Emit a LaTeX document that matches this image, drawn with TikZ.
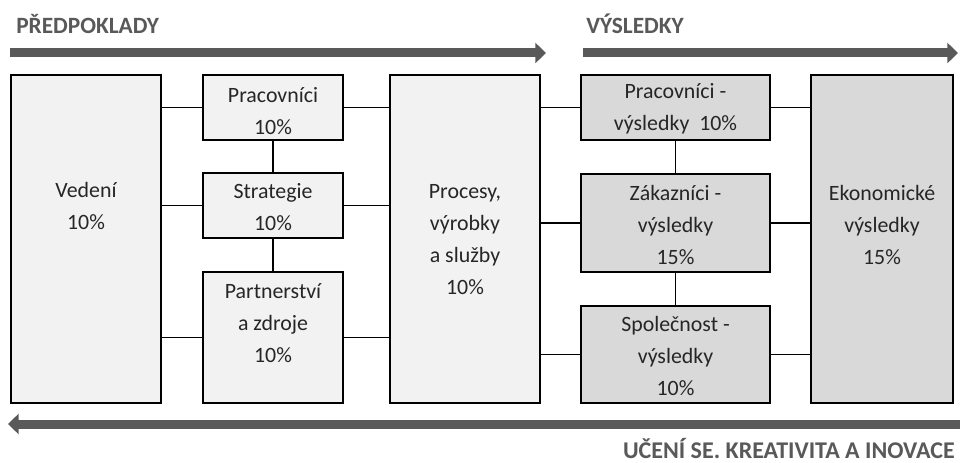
\documentclass[tikz,border=0pt]{standalone}
\usepackage{fontspec}
\setmainfont{Carlito}
\usetikzlibrary{arrows.meta,shadows}
\definecolor{hdr}{HTML}{595959}
\definecolor{lightbox}{HTML}{F2F2F2}
\definecolor{darkbox}{HTML}{D9D9D9}
\definecolor{txt}{HTML}{262626}
\begin{document}
\begin{tikzpicture}[x=0.75pt,y=-0.75pt,
 boxbase/.style={draw=black, line width=1.9pt, inner sep=0pt, drop shadow={shadow xshift=1pt, shadow yshift=-1pt, fill=black!45, opacity=1}},
 lbox/.style={boxbase, fill=lightbox},
 rbox/.style={boxbase, fill=darkbox},
 txtnode/.style={text=txt, font=\fontsize{16.4}{24}\selectfont, align=center, inner sep=0pt},
 conn/.style={line width=1.1pt, black},
 bigarrow/.style={line width=6.75pt, hdr, -{Triangle[length=8pt,width=15pt]}},
 hdrtext/.style={text=hdr, font=\fontsize{17.5}{20}\selectfont\bfseries, inner sep=0pt},
 foottext/.style={text=hdr, font=\fontsize{18}{20}\selectfont\bfseries, inner sep=0pt}
]
\useasboundingbox[fill=white] (0,0) rectangle (960,463);

% headers
\node[hdrtext, anchor=base west] (h1) at (16,34) {PŘEDPOKLADY};
\node[hdrtext, anchor=base west] (h2) at (586,34) {VÝSLEDKY};
\node[foottext, anchor=base east] (h3) at (955,458) {UČENÍ SE. KREATIVITA A INOVACE};

% big arrows
\coordinate (a1s) at (10,53); \coordinate (a1e) at (546,53);
\coordinate (a2s) at (583,53); \coordinate (a2e) at (958,53);
\coordinate (a3s) at (960,424); \coordinate (a3e) at (8,424);
\draw[bigarrow] (a1s) -- (a1e);
\draw[bigarrow] (a2s) -- (a2e);
\draw[bigarrow] (a3s) -- (a3e);

% boxes
\node[lbox, minimum width=112.5pt, minimum height=246pt] (ved) at (86,239) {};
\node[lbox, minimum width=105pt, minimum height=48.75pt] (prac) at (273,107.5) {};
\node[lbox, minimum width=105pt, minimum height=48.75pt] (strat) at (273,205.5) {};
\node[lbox, minimum width=105pt, minimum height=98.25pt] (part) at (273,337.5) {};
\node[lbox, minimum width=112.5pt, minimum height=246pt] (proc) at (465,239) {};
\node[rbox, minimum width=141.75pt, minimum height=48.75pt] (pv) at (675.5,107.5) {};
\node[rbox, minimum width=141.75pt, minimum height=73.5pt] (zv) at (675.5,223) {};
\node[rbox, minimum width=141.75pt, minimum height=72.75pt] (sv) at (675.5,354.5) {};
\node[rbox, minimum width=106.5pt, minimum height=246pt] (ev) at (882,239) {};

% texts
\node[txtnode] (tved) at (86,206) {Vedení\\10\%};
\node[txtnode] (tprac) at (273,111) {Pracovníci\\10\%};
\node[txtnode] (tstrat) at (273,207) {Strategie\\10\%};
\node[txtnode] (tpart) at (273,323) {Partnerství\\a zdroje\\10\%};
\node[txtnode] (tproc) at (465,240) {Procesy,\\výrobky\\a služby\\10\%};
\node[txtnode] (tpv) at (675.5,109) {Pracovníci -\\výsledky~~10\%};
\node[txtnode] (tzv) at (675.5,225) {Zákazníci -\\výsledky\\15\%};
\node[txtnode] (tsv) at (675.5,356) {Společnost -\\výsledky\\10\%};
\node[txtnode] (tev) at (882,225) {Ekonomické\\výsledky\\15\%};

% connectors
\draw[conn] (ved.east |- prac.west) -- (prac.west);
\draw[conn] (ved.east |- strat.west) -- (strat.west);
\draw[conn] (ved.east |- part.west) -- (part.west);
\draw[conn] (prac.east) -- (prac.east -| proc.west);
\draw[conn] (strat.east) -- (strat.east -| proc.west);
\draw[conn] (part.east) -- (part.east -| proc.west);
\draw[conn] (prac.south) -- (strat.north);
\draw[conn] (strat.south) -- (part.north);
\draw[conn] (proc.east |- pv.west) -- (pv.west);
\draw[conn] (proc.east |- zv.west) -- (zv.west);
\draw[conn] (proc.east |- sv.west) -- (sv.west);
\draw[conn] (pv.east) -- (pv.east -| ev.west);
\draw[conn] (zv.east) -- (zv.east -| ev.west);
\draw[conn] (sv.east) -- (sv.east -| ev.west);
\draw[conn] (pv.south) -- (zv.north);
\draw[conn] (zv.south) -- (sv.north);
\end{tikzpicture}
\end{document}
